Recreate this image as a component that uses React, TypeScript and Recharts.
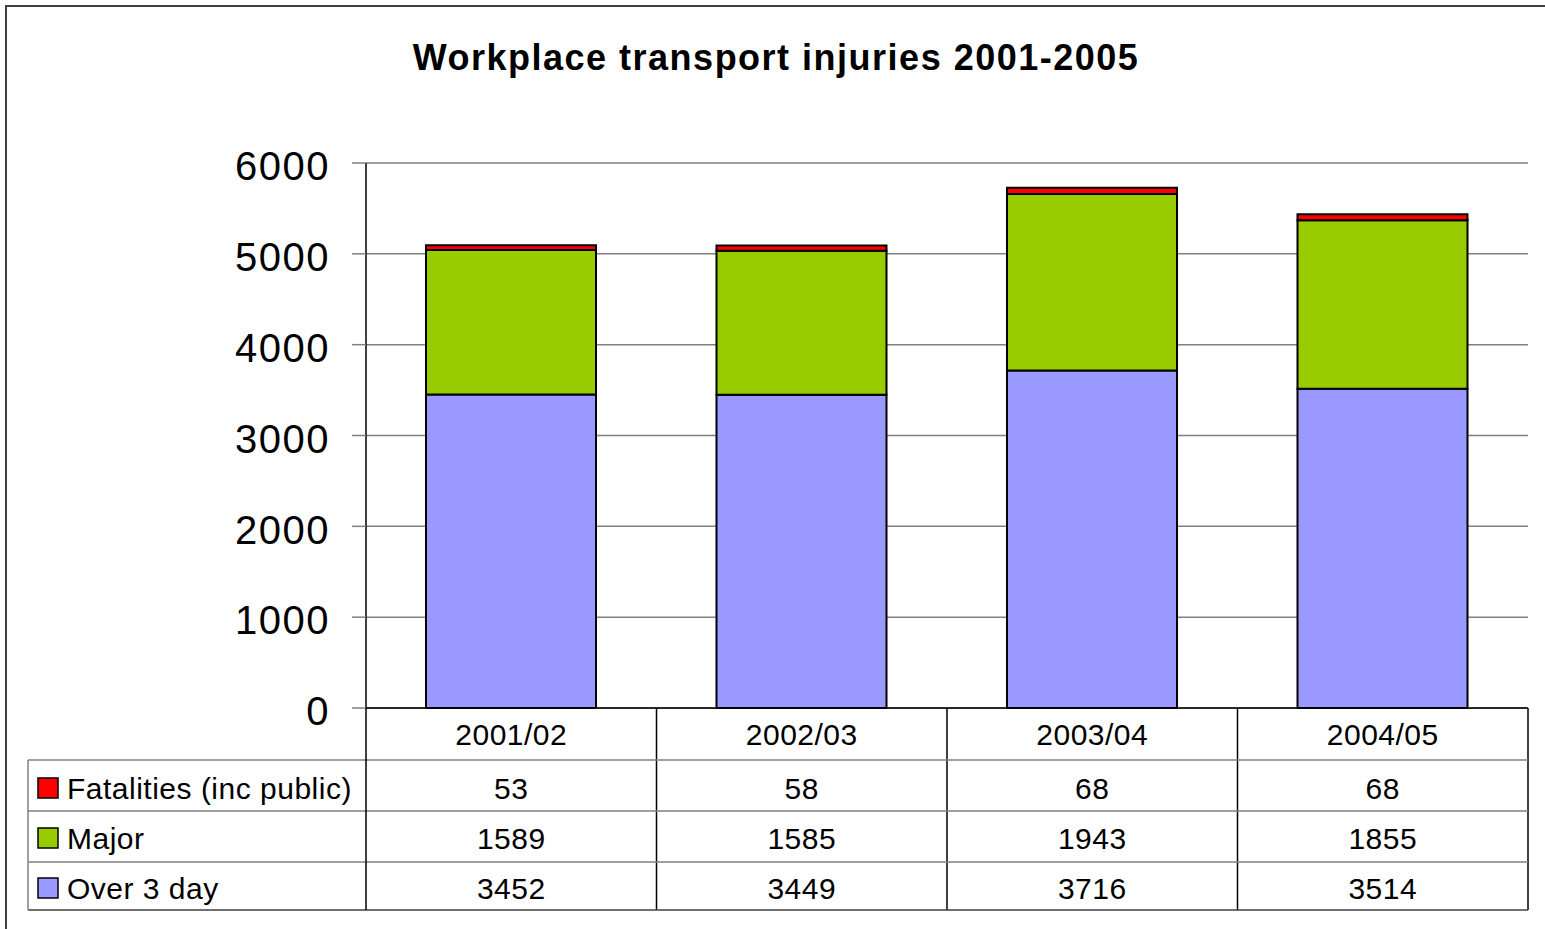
import React from 'react'
import { BarChart, Bar, XAxis, YAxis, CartesianGrid } from 'recharts'

const categories = ['2001/02', '2002/03', '2003/04', '2004/05']
const fatalities = [53, 58, 68, 68]
const major = [1589, 1585, 1943, 1855]
const over3day = [3452, 3449, 3716, 3514]
const yTicks = [0, 1000, 2000, 3000, 4000, 5000, 6000]

const seriesRows = [
  { name: 'Fatalities (inc public)', color: '#FF0000', values: fatalities },
  { name: 'Major', color: '#99CC00', values: major },
  { name: 'Over 3 day', color: '#9999FF', values: over3day },
]

const data = categories.map((c, i) => ({
  category: c,
  over3day: over3day[i],
  major: major[i],
  fatalities: fatalities[i],
}))

const W = 1545
const H = 929
const plotLeft = 366
const plotRight = 1528
const colWidth = (plotRight - plotLeft) / categories.length
const font = '"Liberation Sans", Arial, sans-serif'
const tableFont = 30
// offsets of row text centres below the x axis line
const rowCentres = [26, 80, 130, 180]
const rowLines = [52, 103, 154, 202]

function TableTick(props: any) {
  const { x, y, payload } = props
  const i = payload.index
  const half = colWidth / 2
  const texts = [payload.value, ...seriesRows.map((s) => String(s.values[i]))]
  return (
    <g>
      <line x1={x + half} x2={x + half} y1={y} y2={y + rowLines[3]} stroke="#000" strokeWidth={1.5} />
      {texts.map((t, k) => (
        <text
          key={k}
          x={x}
          y={y + rowCentres[k]}
          textAnchor="middle"
          dominantBaseline="central"
          fontSize={tableFont}
          letterSpacing={0.5}
          fill="#000"
          fontFamily={font}
        >
          {t}
        </text>
      ))}
    </g>
  )
}

function Overlay() {
  const axisY = 708
  return (
    <svg width={W} height={H} style={{ position: 'absolute', left: 0, top: 0, pointerEvents: 'none' }}>
      <rect x={6} y={6} width={W + 20} height={H + 20} fill="none" stroke="#404040" strokeWidth={2} />
      <text
        x={776}
        y={57}
        textAnchor="middle"
        dominantBaseline="central"
        fontSize={36}
        fontWeight="bold"
        letterSpacing={1.5}
        fontFamily={font}
        fill="#000"
      >
        Workplace transport injuries 2001-2005
      </text>
      {[0, 1, 2].map((k) => (
        <line key={k} x1={28} x2={plotRight} y1={axisY + rowLines[k]} y2={axisY + rowLines[k]} stroke="#808080" strokeWidth={1.5} />
      ))}
      <line x1={28} x2={plotRight} y1={axisY + rowLines[3]} y2={axisY + rowLines[3]} stroke="#404040" strokeWidth={1.5} />
      <line x1={28} x2={28} y1={axisY + rowLines[0]} y2={axisY + rowLines[3]} stroke="#808080" strokeWidth={1.5} />
      <line x1={plotLeft} x2={plotLeft} y1={axisY} y2={axisY + rowLines[3]} stroke="#000" strokeWidth={1.5} />
      {seriesRows.map((s, k) => (
        <g key={s.name}>
          <rect x={38} y={axisY + rowCentres[k + 1] - 10} width={20} height={20} fill={s.color} stroke="#000" strokeWidth={1.5} />
          <text
            x={67}
            y={axisY + rowCentres[k + 1]}
            dominantBaseline="central"
            fontSize={tableFont}
            letterSpacing={0.5}
            fontFamily={font}
            fill="#000"
          >
            {s.name}
          </text>
        </g>
      ))}
    </svg>
  )
}

export default function App() {
  return (
    <div style={{ position: 'absolute', left: 0, top: 0, width: W, height: H, background: '#fff', fontFamily: font }}>
      <BarChart
        width={W}
        height={H}
        data={data}
        margin={{ top: 163, right: W - plotRight, bottom: H - 910, left: 0 }}
        barSize={170}
      >
        <CartesianGrid vertical={false} stroke="#808080" strokeWidth={1.5} />
        <XAxis
          dataKey="category"
          height={202}
          interval={0}
          tickLine={false}
          tickSize={0}
          tickMargin={0}
          axisLine={{ stroke: '#000', strokeWidth: 1.5 }}
          tick={<TableTick />}
        />
        <YAxis
          width={plotLeft}
          domain={[0, 6000]}
          ticks={yTicks}
          interval={0}
          tickSize={14}
          tickMargin={22}
          tickLine={{ stroke: '#808080', strokeWidth: 1.5 }}
          axisLine={{ stroke: '#000', strokeWidth: 1.5 }}
          tick={{ fontSize: 40, fill: '#000', fontFamily: font, letterSpacing: 1.5, dy: 3 }}
        />
        <Bar dataKey="over3day" stackId="a" fill="#9999FF" stroke="#000" strokeWidth={2} isAnimationActive={false} />
        <Bar dataKey="major" stackId="a" fill="#99CC00" stroke="#000" strokeWidth={2} isAnimationActive={false} />
        <Bar dataKey="fatalities" stackId="a" fill="#FF0000" stroke="#000" strokeWidth={2} isAnimationActive={false} />
      </BarChart>
      <Overlay />
    </div>
  )
}
